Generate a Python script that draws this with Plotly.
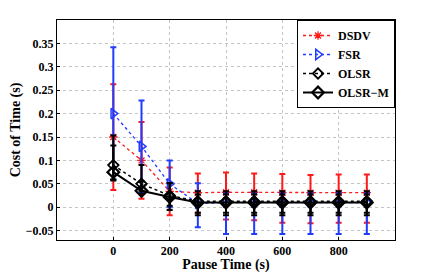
import plotly.graph_objects as go

pause_time = [0, 100, 200, 300, 400, 500, 600, 700, 800, 900]
x_ticks = [0, 200, 400, 600, 800]
x_tick_labels = ["<b>0</b>", "<b>200</b>", "<b>400</b>", "<b>600</b>", "<b>800</b>"]
y_ticks = [-0.05, 0, 0.05, 0.1, 0.15, 0.2, 0.25, 0.3, 0.35]
y_tick_labels = ["<b>\u22120.05</b>", "<b>0</b>", "<b>0.05</b>", "<b>0.1</b>", "<b>0.15</b>",
                 "<b>0.2</b>", "<b>0.25</b>", "<b>0.3</b>", "<b>0.35</b>"]

dsdv = [0.15, 0.10, 0.034, 0.031, 0.032, 0.032, 0.031, 0.031, 0.031, 0.031]
dsdv_up = [0.113, 0.082, 0.051, 0.041, 0.042, 0.040, 0.040, 0.038, 0.039, 0.039]
dsdv_dn = [0.113, 0.082, 0.051, 0.043, 0.058, 0.060, 0.064, 0.065, 0.064, 0.064]

fsr = [0.20, 0.13, 0.05, 0.008, 0.01, 0.01, 0.01, 0.01, 0.01, 0.01]
fsr_up = [0.142, 0.098, 0.05, 0.043, 0.02, 0.02, 0.02, 0.02, 0.02, 0.02]
fsr_dn = [0.142, 0.098, 0.05, 0.051, 0.067, 0.067, 0.067, 0.067, 0.067, 0.067]

olsr = [0.09, 0.05, 0.025, 0.013, 0.013, 0.013, 0.013, 0.013, 0.013, 0.013]
olsr_up = [0.063, 0.04, 0.026, 0.014, 0.014, 0.014, 0.014, 0.014, 0.014, 0.014]
olsr_dn = [0.03, 0.015, 0.022, 0.025, 0.025, 0.025, 0.025, 0.025, 0.025, 0.025]

olsrm = [0.075, 0.035, 0.022, 0.01, 0.01, 0.01, 0.01, 0.01, 0.01, 0.01]
olsrm_up = [0.057, 0.02, 0.03, 0.024, 0.024, 0.024, 0.024, 0.024, 0.024, 0.024]
olsrm_dn = [0.018, 0.006, 0.028, 0.027, 0.027, 0.027, 0.027, 0.027, 0.027, 0.027]

RED = "#ff1a1a"
BLUE = "#1f3cff"
BLACK = "#000000"

fig = go.Figure()

def add(name, y, up, dn, color, dash, symbol, msize, lw, mlw):
    fig.add_trace(go.Scatter(
        x=pause_time, y=y, name="<b>" + name + "</b>", mode="lines+markers",
        line=dict(color=color, dash=dash, width=lw),
        marker=dict(symbol=symbol, size=msize, color=color,
                    line=dict(color=color, width=mlw)),
        error_y=dict(type="data", symmetric=False, array=up, arrayminus=dn,
                     color=color, thickness=2, width=3),
    ))

add("DSDV", dsdv, dsdv_up, dsdv_dn, RED, "dot", "asterisk-open", 7, 1.3, 1.3)
add("FSR", fsr, fsr_up, fsr_dn, BLUE, "dot", "triangle-right-open", 9, 1.3, 1.5)
add("OLSR", olsr, olsr_up, olsr_dn, BLACK, "dot", "diamond-open", 8, 1.5, 1.8)
add("OLSR\u2212M", olsrm, olsrm_up, olsrm_dn, BLACK, "solid", "diamond-open", 9, 2, 2.2)

font = "Liberation Serif"
# the page body adds an 8px margin, so the figure is sized to fit inside the window
fig.update_layout(
    width=428, height=265,
    margin=dict(l=49, r=41, t=12, b=33, autoexpand=False),
    paper_bgcolor="white", plot_bgcolor="white",
    font=dict(family=font, color="black", size=11),
    showlegend=True,
    legend=dict(
        x=1, y=1, xanchor="right", yanchor="top",
        bgcolor="white", bordercolor="black", borderwidth=1,
        font=dict(family=font, size=12, color="black"),
        tracegroupgap=0, itemwidth=30,
    ),
    xaxis=dict(
        range=[-200, 1000], tickvals=x_ticks, ticktext=x_tick_labels,
        automargin=False,
        showgrid=True, gridcolor="#c4c4c4", griddash="dot", gridwidth=1,
        showline=True, linecolor="black", linewidth=1, mirror=True,
        ticks="inside", ticklen=3, tickcolor="black",
        zeroline=False,
        tickfont=dict(family=font, size=12),
        title=dict(text="<b>Pause Time (s)</b>", standoff=2,
                   font=dict(family=font, size=14)),
    ),
    yaxis=dict(
        range=[-0.07, 0.4], tickvals=y_ticks, ticktext=y_tick_labels,
        automargin=False,
        showgrid=True, gridcolor="#c4c4c4", griddash="dot", gridwidth=1,
        showline=True, linecolor="black", linewidth=1, mirror=True,
        ticks="inside", ticklen=3, tickcolor="black",
        zeroline=False,
        tickfont=dict(family=font, size=12),
        title=dict(text="<b>Cost of Time (s)</b>", standoff=4,
                   font=dict(family=font, size=14)),
    ),
)

fig.write_html("out.html")
